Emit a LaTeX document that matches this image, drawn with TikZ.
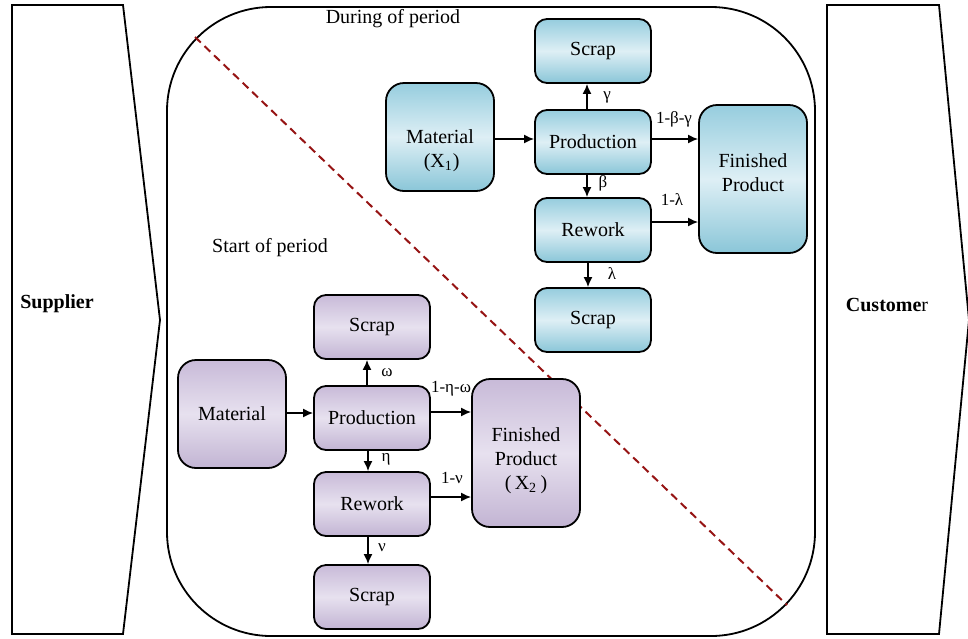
\documentclass[tikz,border=0pt]{standalone}
\usepackage{fontspec}
\setmainfont{LiberationSerif}[Extension=.ttf, UprightFont=*-Regular, BoldFont=*-Bold, ItalicFont=*-Italic]
\usetikzlibrary{arrows.meta}
\definecolor{bluetop}{RGB}{150,205,222}
\definecolor{bluemid}{RGB}{222,239,245}
\definecolor{bluebot}{RGB}{138,198,216}
\definecolor{purtop}{RGB}{200,186,216}
\definecolor{purmid}{RGB}{231,225,239}
\definecolor{purbot}{RGB}{194,180,211}
\definecolor{dashred}{RGB}{150,20,20}
\begin{document}
\begin{tikzpicture}[x=0.5pt,y=-0.5pt,
  boxbase/.style={draw=black, line width=0.9pt, align=center, inner sep=0pt,
    font=\fontsize{10}{12}\selectfont},
  bluebox/.style={boxbase, top color=bluetop, bottom color=bluebot, middle color=bluemid},
  purbox/.style={boxbase, top color=purtop, bottom color=purbot, middle color=purmid},
  smallbox/.style={rounded corners=6pt, minimum width=58pt, minimum height=32pt},
  bigbox/.style={rounded corners=9pt, minimum width=54pt, minimum height=54pt},
  finbox/.style={rounded corners=9pt, minimum width=54pt, minimum height=74pt},
  arr/.style={line width=0.8pt, -{Latex[length=5pt,width=4.5pt]}},
  lbl/.style={font=\fontsize{8.5}{10}\selectfont, inner sep=0pt},
  outline/.style={draw=black, line width=0.9pt},
  plain/.style={font=\fontsize{10}{12}\selectfont, inner sep=0pt}
]
\useasboundingbox (0,0) rectangle (968,638);

% supplier and customer shapes
\draw[outline] (12,5) -- (123,5) -- (160,320) -- (123,634) -- (12,634) -- cycle;
\node[plain, font=\fontsize{10}{12}\selectfont\bfseries] (supplier) at (57,304) {Supplier};
\draw[outline] (827,5) -- (939,5) -- (969,320) -- (939,634) -- (827,634) -- cycle;
\node[plain] (customer) at (887,305) {\textbf{Custome}r};

% big rounded container
\draw[outline, rounded corners=52pt] (167,7) rectangle (815,636);

% dashed divider
\draw[dashred, line width=1pt, dash pattern=on 4pt off 2.6pt] (195,37) -- (787,605);

\node[plain] (during) at (393,19) {During of period};
\node[plain] (start) at (270,248) {Start of period};

% ---- During of period (blue)
\node[bluebox, smallbox] (scrapA) at (593,51) {Scrap};
\node[bluebox, bigbox] (matA) at (440,137) {\strut\\[0pt]Material\\\,(X\textsubscript{1})};
\node[bluebox, smallbox] (prodA) at (593,142) {Production};
\node[bluebox, smallbox] (rewA) at (593,230) {Rework};
\node[bluebox, smallbox] (scrapA2) at (593,320) {Scrap};
\node[bluebox, finbox] (finA) at (753,179) {Finished\\Product\\[-6pt]\mbox{}};

\draw[arr] (matA.east |- 0,139) -- (prodA.west |- 0,139);
\draw[arr] ([xshift=-3pt]prodA.north) -- ([xshift=-3pt]scrapA.south);
\draw[arr] ([xshift=-3pt]prodA.south) -- ([xshift=-3pt]rewA.north);
\draw[arr] ([xshift=-2.5pt]rewA.south) -- ([xshift=-2.5pt]scrapA2.north);
\draw[arr] ([yshift=1.5pt]prodA.east) -- ([yshift=1.5pt]prodA.east -| finA.west);
\draw[arr] ([yshift=4pt]rewA.east) -- ([yshift=4pt]rewA.east -| finA.west);

\node[lbl] (gam) at (607,97) {γ};
\node[lbl] (bet) at (603,183) {β};
\node[lbl] (bg) at (674,119) {1-β-γ};
\node[lbl] (ol) at (672,200) {1-λ};
\node[lbl] (lam) at (612,274) {λ};

% ---- Start of period (purple)
\node[purbox, smallbox] (scrapB) at (372,327) {Scrap};
\node[purbox, bigbox] (matB) at (232,414) {Material};
\node[purbox, smallbox] (prodB) at (372,418) {Production};
\node[purbox, smallbox] (rewB) at (372,504) {Rework};
\node[purbox, smallbox] (scrapB2) at (372,597) {Scrap};
\node[purbox, finbox] (finB) at (526,453) {\strut\\[-5.4pt]Finished\\Product\\(\,X\textsubscript{2}\,)};

\draw[arr] (matB.east |- 0,413) -- (prodB.west |- 0,413);
\draw[arr] ([xshift=-2.5pt]prodB.north) -- ([xshift=-2.5pt]scrapB.south);
\draw[arr] ([xshift=-2pt]prodB.south) -- ([xshift=-2pt]rewB.north);
\draw[arr] ([xshift=-2pt]rewB.south) -- ([xshift=-2pt]scrapB2.north);
\draw[arr] ([yshift=3pt]prodB.east) -- ([yshift=3pt]prodB.east -| finB.west);
\draw[arr] ([yshift=3.5pt]rewB.east) -- ([yshift=3.5pt]rewB.east -| finB.west);

\node[lbl] (om) at (387,373) {ω};
\node[lbl] (eta) at (386,459) {η};
\node[lbl] (eo) at (451,389) {1-η-ω};
\node[lbl] (onu) at (452,478) {1-ν};
\node[lbl] (nu) at (382,548) {ν};
\end{tikzpicture}
\end{document}
